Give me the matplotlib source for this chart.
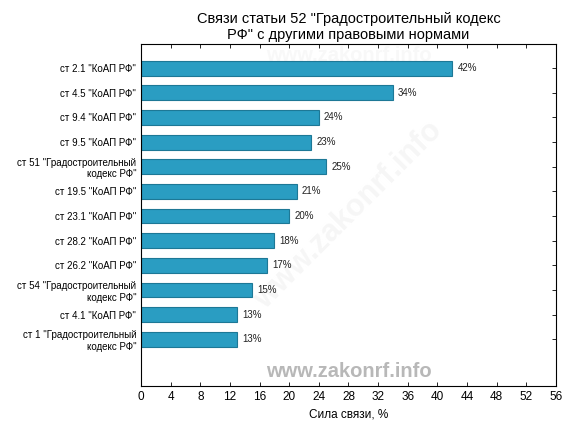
import matplotlib
matplotlib.use("Agg")
from matplotlib import pyplot as plt

plt.rcParams['font.family'] = ['Liberation Sans', 'DejaVu Sans']

labels = ['ст 2.1 "КоАП РФ"', 'ст 4.5 "КоАП РФ"', 'ст 9.4 "КоАП РФ"', 'ст 9.5 "КоАП РФ"',
          'ст 51 "Градостроительный\nкодекс РФ"', 'ст 19.5 "КоАП РФ"', 'ст 23.1 "КоАП РФ"',
          'ст 28.2 "КоАП РФ"', 'ст 26.2 "КоАП РФ"', 'ст 54 "Градостроительный\nкодекс РФ"',
          'ст 4.1 "КоАП РФ"', 'ст 1 "Градостроительный\nкодекс РФ"']
values = [42, 34, 24, 23, 25, 21, 20, 18, 17, 15, 13, 13]
xticks = list(range(0, 57, 4))

fig = plt.figure(figsize=(5.76, 4.32), dpi=100)
ax = fig.add_axes([0.245, 0.1065, 0.72, 0.7915])

# watermarks
ax.text(0.5, 0.041, 'www.zakonrf.info', transform=ax.transAxes, ha='center', va='center',
        fontsize=14.5, fontweight='bold', color='#b8b8b8')
ax.text(0.5, 0.968, 'www.zakonrf.info', transform=ax.transAxes, ha='center', va='center',
        fontsize=14.5, fontweight='bold', color='#f8f8f8', zorder=0)
ax.text(0.5, 0.5, 'www.zakonrf.info', transform=ax.transAxes, ha='center', va='center',
        fontsize=22, fontweight='bold', color='#f6f6f6', rotation=45, zorder=0)

ypos = list(range(len(values)))
ax.barh(ypos, values, height=0.6, color='#2a9dc2', edgecolor='#1d7896', linewidth=0.8, zorder=2)
for y, v in zip(ypos, values):
    ax.text(v + 0.7, y, f'{v}%', va='center', ha='left', fontsize=7, color='#222222')

ax.set_yticks(ypos)
ax.set_yticklabels(labels, fontsize=7)
ax.set_ylim(12.9, -0.98)
ax.set_xlim(0, 56)
ax.set_xticks(xticks)
ax.tick_params(axis='x', labelsize=8.5)
ax.tick_params(direction='in', top=True, right=True, length=3, width=0.6)
ax.set_xlabel('Сила связи, %', fontsize=8.5)
ax.set_title('Связи статьи 52 "Градостроительный кодекс\nРФ" с другими правовыми нормами',
             fontsize=10.5, linespacing=1.15, pad=4)

fig.savefig('out.png', dpi=100)
